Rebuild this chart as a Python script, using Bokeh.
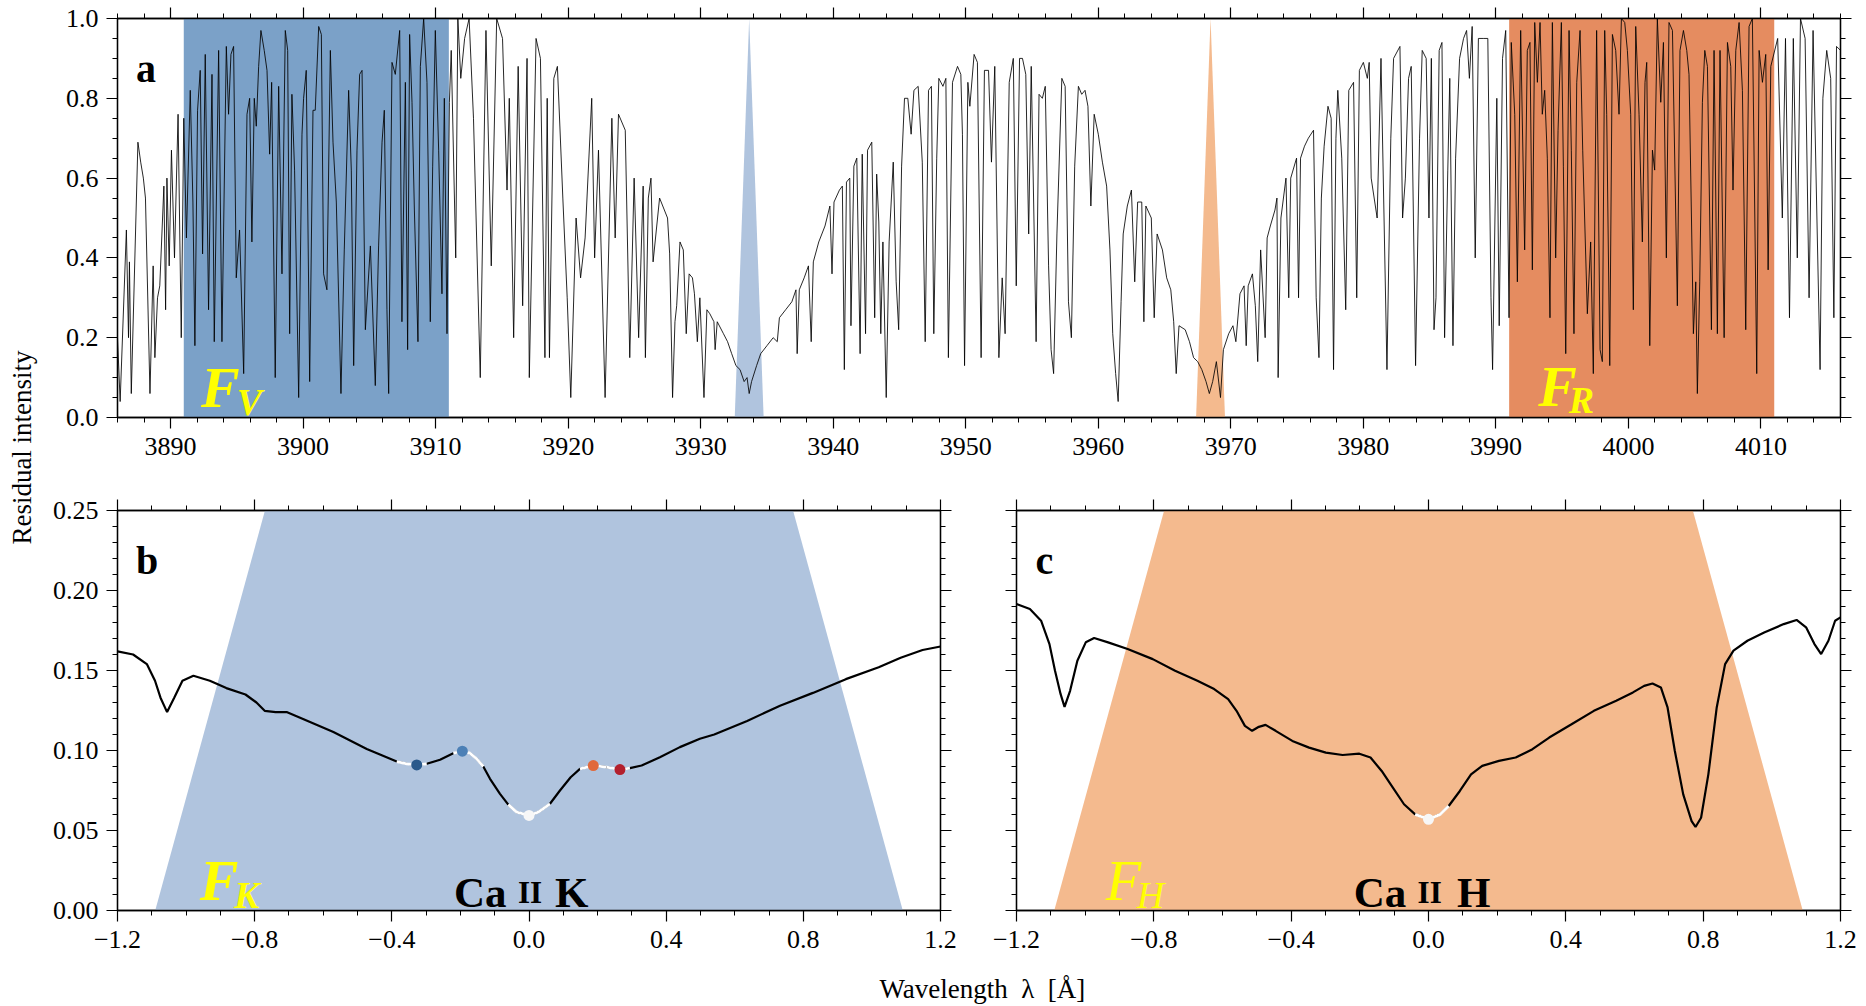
import numpy as np
from bokeh.plotting import figure
from bokeh.layouts import row, column
from bokeh.models import (LinearAxis, FixedTicker, CustomJSTickFormatter, Label)
from bokeh.embed import file_html
from bokeh.resources import INLINE

FONT = "Liberation Serif"

# ---------------- panel a : solar spectrum (wavelength in A, residual intensity) -------------
spec_wl = [
 3886.0, 3886.2, 3886.67, 3886.83, 3886.9, 3887.04, 3887.54, 3887.75, 3887.95, 3888.11,
 3888.45, 3888.69, 3888.82, 3889.02, 3889.19, 3889.5, 3889.63, 3889.73, 3889.9, 3890.07,
 3890.3, 3890.57, 3890.81, 3891.0, 3891.2, 3891.49,
 3891.69, 3891.84, 3892.04, 3892.24, 3892.42, 3892.62, 3892.87, 3893.13, 3893.30, 3893.63,
 3893.88, 3894.21, 3894.38, 3894.56, 3894.76, 3894.96, 3895.21, 3895.52, 3895.77, 3895.97,
 3896.14, 3896.32, 3896.47, 3896.65, 3896.82, 3897.07, 3897.28, 3897.48, 3897.63, 3897.90,
 3898.16, 3898.41, 3898.66, 3898.84, 3898.99, 3899.16, 3899.36, 3899.67, 3899.92, 3900.04,
 3900.24, 3900.50, 3900.75, 3900.92, 3901.18, 3901.38, 3901.55, 3901.80, 3902.06, 3902.26,
 3902.51, 3902.86, 3903.11, 3903.44, 3903.64, 3903.82, 3904.07, 3904.27, 3904.45, 3904.70,
 3905.08, 3905.45, 3905.70, 3905.96, 3906.13, 3906.33, 3906.46, 3906.71, 3906.96, 3907.29,
 3907.46, 3907.72, 3907.89, 3908.04, 3908.22, 3908.40, 3908.67, 3908.85, 3909.10, 3909.35,
 3909.60, 3909.78, 3909.98, 3910.23, 3910.48, 3910.66, 3910.86, 3911.04,
 3911.18, 3911.52, 3911.68, 3911.9, 3912.19, 3912.53, 3912.86, 3913.37, 3913.8, 3914.2,
 3914.61, 3915.05, 3915.39, 3915.56, 3915.89, 3916.23, 3916.57, 3916.9, 3917.07, 3917.58,
 3917.91, 3918.25, 3918.42, 3918.59, 3918.92, 3919.19, 3919.6, 3919.93, 3920.2, 3920.6,
 3920.94, 3921.28, 3921.78, 3922.0, 3922.29, 3922.79, 3923.3, 3923.55, 3923.8, 3924.31,
 3924.65, 3924.98, 3925.32, 3925.66, 3925.83, 3926.05,
 3926.25, 3926.41, 3926.9, 3927.5, 3927.66, 3927.88, 3928.06, 3928.19, 3928.44, 3928.69,
 3928.91, 3929.13, 3929.38, 3929.53, 3929.75, 3929.94, 3930.25, 3930.47, 3930.69, 3931.0,
 3931.09, 3931.25, 3931.72, 3932.03, 3932.34, 3932.66, 3932.97, 3933.28, 3933.5, 3933.66,
 3933.84, 3934.22, 3934.53, 3935.0, 3935.47, 3935.78, 3935.94, 3936.41, 3936.88, 3937.19,
 3937.28, 3937.44, 3937.81, 3938.13, 3938.34, 3938.5, 3938.91, 3939.38, 3939.75, 3939.91,
 3940.06, 3940.47, 3940.69, 3940.84, 3941.0, 3941.25, 3941.34, 3941.56, 3941.78, 3942.03,
 3942.19, 3942.44, 3942.59, 3942.91, 3943.13, 3943.28, 3943.44, 3943.59, 3943.75, 3944.0,
 3944.22, 3944.53, 3944.75, 3944.94, 3945.16, 3945.38, 3945.63, 3945.88, 3946.09, 3946.41,
 3946.72, 3946.94, 3947.19, 3947.41, 3947.59, 3947.81, 3947.97, 3948.28, 3948.5, 3948.69,
 3949.0, 3949.38, 3949.63, 3949.75, 3949.91, 3950.16, 3950.31, 3950.63, 3950.88, 3951.16,
 3951.41, 3951.72, 3951.94, 3952.19, 3952.5, 3952.75, 3952.97, 3953.28, 3953.59, 3953.81,
 3954.06, 3954.28, 3954.53, 3954.75, 3954.94, 3955.31, 3955.53, 3955.78, 3956.0, 3956.25,
 3956.44, 3956.63, 3956.88, 3957.25, 3957.5, 3957.75, 3957.97, 3958.22, 3958.5, 3958.75,
 3959.0, 3959.22, 3959.44, 3959.69, 3960.0, 3960.31, 3960.63, 3960.88, 3961.09, 3961.31,
 3961.5, 3961.72, 3961.88, 3962.19, 3962.5, 3962.75, 3962.97, 3963.28, 3963.44, 3963.59,
 3964.0, 3964.22, 3964.44, 3964.84, 3965.16, 3965.47, 3965.69, 3965.88, 3966.09, 3966.56,
 3966.88, 3967.19, 3967.5, 3967.81, 3968.13, 3968.38, 3968.63, 3968.91, 3969.22, 3969.44,
 3969.84, 3970.16, 3970.38, 3970.69, 3971.0, 3971.16, 3971.31, 3971.63, 3971.85, 3972.03,
 3972.25, 3972.59, 3972.74, 3972.98, 3973.33, 3973.48, 3973.57, 3973.78, 3974.16, 3974.37,
 3974.52, 3974.96, 3975.11, 3975.26, 3975.56, 3975.85, 3976.24, 3976.44, 3976.65, 3976.83,
 3977.04, 3977.33, 3977.57, 3977.75, 3977.93, 3978.07, 3978.37, 3978.67, 3978.9, 3979.26,
 3979.5, 3979.7, 3980.0, 3980.3, 3980.44, 3980.59, 3981.04, 3981.33, 3981.78, 3982.07,
 3982.28, 3982.76, 3982.96, 3983.17, 3983.41, 3983.61, 3983.94, 3984.24, 3984.44, 3984.74,
 3984.95, 3985.13, 3985.33, 3985.48, 3985.72, 3985.93, 3986.13, 3986.37, 3986.52, 3986.76,
 3986.96, 3987.26, 3987.56, 3987.79, 3988.0, 3988.21, 3988.44, 3988.68, 3989.04, 3989.39,
 3989.63, 3989.75, 3990.07, 3990.25, 3990.5, 3990.74, 3990.99,
 3991.16, 3991.42, 3991.62, 3991.87, 3992.17, 3992.37, 3992.57, 3992.75, 3992.93, 3993.13,
 3993.33, 3993.5, 3993.68, 3993.88, 3994.08, 3994.26, 3994.51, 3994.69, 3994.94, 3995.09,
 3995.27, 3995.52, 3995.69, 3995.89, 3996.1, 3996.35, 3996.55, 3996.9, 3997.15, 3997.35,
 3997.6, 3997.86, 3998.03, 3998.21, 3998.36, 3998.59, 3998.79, 3999.04, 3999.29, 3999.47,
 3999.72, 3999.92, 4000.17, 4000.37, 4000.55, 4000.8, 4001.05, 4001.25, 4001.38, 4001.61,
 4001.81, 4001.98, 4002.18, 4002.44, 4002.64, 4002.86, 4003.06, 4003.32, 4003.69, 4003.89,
 4004.15, 4004.4, 4004.57, 4004.75, 4004.9, 4005.08, 4005.2, 4005.38, 4005.58, 4005.76,
 4005.96, 4006.26, 4006.46, 4006.71, 4006.91, 4007.22, 4007.47, 4007.72, 4007.89, 4008.1,
 4008.35, 4008.6, 4008.85, 4009.1, 4009.35, 4009.68, 4009.86, 4010.11, 4010.36, 4010.54,
 4010.74, 4011.26, 4011.61, 4011.85, 4012.15, 4012.44, 4012.74, 4012.98, 4013.33, 4013.63,
 4013.93, 4014.22, 4014.46, 4014.67, 4014.96, 4015.26, 4015.5, 4015.7, 4016.0]

spec_int = [
 0.20, 0.04, 0.47, 0.20, 0.39, 0.06, 0.69, 0.64, 0.60, 0.55,
 0.06, 0.38, 0.15, 0.30, 0.33, 0.58, 0.27, 0.60, 0.38, 0.67,
 0.40, 0.76, 0.20, 0.75, 0.45, 0.82,
 0.54, 0.18, 0.77, 0.87, 0.41, 0.91, 0.27, 0.86, 0.19, 0.92,
 0.19, 0.93, 0.76, 0.91, 0.93, 0.35, 0.47, 0.11, 0.76, 0.80,
 0.44, 0.80, 0.73, 0.88, 0.97, 0.92, 0.87, 0.66, 0.84, 0.10,
 0.83, 0.36, 0.97, 0.92, 0.21, 0.81, 0.62, 0.05, 0.71, 0.80,
 0.87, 0.09, 0.77, 0.77, 0.98, 0.96, 0.36, 0.32, 0.92, 0.69,
 0.54, 0.06, 0.42, 0.82, 0.62, 0.13, 0.67, 0.86, 0.87, 0.22,
 0.43, 0.08, 0.43, 0.69, 0.77, 0.27, 0.06, 0.89, 0.86, 0.97,
 0.24, 0.84, 0.17, 0.96, 0.79, 0.52, 0.19, 0.88, 1.00, 0.84,
 0.24, 0.63, 0.97, 0.67, 0.31, 0.80, 0.21, 0.79,
 0.92, 0.40, 1.00, 0.85, 0.95, 1.00, 0.75, 0.10, 0.97, 0.38,
 1.00, 0.95, 0.57, 0.80, 0.20, 0.88, 0.28, 0.90, 0.10, 0.95,
 0.90, 0.15, 0.80, 0.15, 0.85, 0.88, 0.55, 0.30, 0.05, 0.50,
 0.35, 0.45, 0.80, 0.40, 0.67, 0.05, 0.75, 0.45, 0.76, 0.72,
 0.15, 0.60, 0.20, 0.58, 0.15, 0.55,
 0.60, 0.39, 0.55, 0.50, 0.41, 0.05, 0.24, 0.28, 0.44, 0.42,
 0.21, 0.36, 0.35, 0.31, 0.19, 0.30, 0.05, 0.27, 0.26, 0.24,
 0.17, 0.24, 0.21, 0.19, 0.16, 0.13, 0.12, 0.09, 0.10, 0.06,
 0.09, 0.13, 0.16, 0.18, 0.20, 0.19, 0.25, 0.27, 0.29, 0.32,
 0.16, 0.32, 0.35, 0.38, 0.19, 0.39, 0.44, 0.48, 0.53, 0.36,
 0.54, 0.57, 0.58, 0.12, 0.59, 0.60, 0.23, 0.63, 0.65, 0.16,
 0.66, 0.21, 0.67, 0.69, 0.25, 0.61, 0.49, 0.21, 0.44, 0.05,
 0.44, 0.64, 0.34, 0.22, 0.63, 0.80, 0.80, 0.71, 0.82, 0.83,
 0.64, 0.19, 0.82, 0.83, 0.21, 0.65, 0.85, 0.83, 0.85, 0.15,
 0.84, 0.88, 0.86, 0.71, 0.13, 0.84, 0.78, 0.91, 0.89, 0.15,
 0.87, 0.87, 0.64, 0.88, 0.15, 0.35, 0.21, 0.84, 0.90, 0.33,
 0.90, 0.90, 0.86, 0.46, 0.88, 0.19, 0.81, 0.80, 0.83, 0.38,
 0.17, 0.11, 0.46, 0.85, 0.83, 0.29, 0.20, 0.63, 0.83, 0.81,
 0.82, 0.78, 0.53, 0.76, 0.71, 0.64, 0.58, 0.42, 0.21, 0.11,
 0.04, 0.29, 0.46, 0.53, 0.57, 0.34, 0.54, 0.54, 0.24, 0.53,
 0.50, 0.25, 0.46, 0.42, 0.35, 0.32, 0.24, 0.11, 0.23, 0.22,
 0.19, 0.15, 0.14, 0.12, 0.09, 0.06, 0.09, 0.14, 0.05, 0.17,
 0.21, 0.23, 0.19, 0.31, 0.33, 0.18, 0.33, 0.36, 0.28, 0.14,
 0.42, 0.20, 0.45, 0.48, 0.52, 0.55, 0.10, 0.50, 0.60, 0.30,
 0.60, 0.65, 0.30, 0.65, 0.68, 0.70, 0.72, 0.30, 0.15, 0.55,
 0.68, 0.78, 0.75, 0.12, 0.70, 0.82, 0.65, 0.27, 0.82, 0.84,
 0.30, 0.87, 0.89, 0.85, 0.89, 0.60, 0.50, 0.90, 0.12, 0.70,
 0.90, 0.93, 0.50, 0.60, 0.85, 0.88, 0.13, 0.70, 0.92, 0.90,
 0.50, 0.90, 0.22, 0.30, 0.92, 0.94, 0.20, 0.62, 0.85, 0.18,
 0.65, 0.90, 0.95, 0.97, 0.85, 0.98, 0.40, 0.95, 0.95, 0.95,
 0.30, 0.12, 0.80, 0.23, 0.90, 0.97, 0.25,
 0.94, 0.76, 0.34, 0.97, 0.42, 0.92, 0.94, 0.37, 0.99, 0.84,
 0.99, 0.76, 0.82, 0.65, 0.25, 0.99, 0.40, 0.72, 0.99, 0.63,
 0.16, 0.97, 0.67, 0.21, 0.84, 0.97, 0.67, 0.26, 0.44, 0.11,
 0.97, 0.17, 0.14, 0.97, 0.76, 0.13, 0.96, 0.92, 0.76, 1.00,
 0.99, 0.92, 0.76, 0.27, 0.98, 0.76, 0.44, 0.84, 0.89, 0.18,
 0.67, 0.62, 1.00, 0.79, 0.94, 0.40, 0.99, 0.97, 0.28, 0.92,
 0.97, 0.92, 0.86, 0.51, 0.21, 0.34, 0.06, 0.34, 0.79, 0.92,
 0.88, 0.22, 0.92, 0.21, 0.92, 0.20, 0.94, 0.88, 0.57, 0.92,
 0.99, 0.82, 0.22, 0.98, 1.00, 0.11, 0.92, 0.84, 0.91, 0.37,
 0.88, 0.95, 0.50, 0.95, 0.25, 0.95, 0.40, 1.00, 0.95, 0.30,
 0.97, 0.50, 0.12, 0.80, 0.92, 0.85, 0.25, 0.93, 0.92]

band_centers = [3901.0, 4001.0]          # F_V and F_R windows
band_width = 20.0
band_colors = ["#7BA1C8", "#E58C60"]
line_centers = [3933.66, 3968.47]        # Ca II K and H
line_halfbase = 1.09
line_colors = ["#B0C4DE", "#F4BA8E"]

# ---------------- panel b : Ca II K core (delta lambda, intensity) ----------------
k_dl = [-1.2, -1.1545, -1.1145, -1.0906, -1.0746, -1.0554, -1.0346, -1.0106, -0.9786, -0.9307,
        -0.8827, -0.8268, -0.7948, -0.7708, -0.7388, -0.7069, -0.6675, -0.5704, -0.4731, -0.3857,
        -0.3565, -0.3274, -0.2982, -0.2595, -0.2207, -0.1944, -0.172, -0.1525, -0.1333, -0.1137,
        -0.0846, -0.0604, -0.0359, 0.0, 0.0271, 0.0612, 0.0903, 0.1215, 0.1486, 0.1874,
        0.2264, 0.2652, 0.2943, 0.3284, 0.3817, 0.44, 0.4983, 0.5402, 0.6361, 0.732,
        0.828, 0.9239, 1.0198, 1.0838, 1.1477, 1.2]
k_int = [0.162, 0.160, 0.154, 0.1436, 0.133, 0.124, 0.133, 0.1436, 0.1467, 0.1436,
         0.139, 0.135, 0.130, 0.1248, 0.124, 0.124, 0.1205, 0.1115, 0.101, 0.0931,
         0.0917, 0.0910, 0.0917, 0.0942, 0.0983, 0.0996, 0.0983, 0.0948, 0.0900, 0.0823,
         0.0729, 0.0662, 0.0615, 0.0594, 0.0615, 0.0667, 0.0750, 0.0833, 0.0885, 0.0906,
         0.0896, 0.0881, 0.0890, 0.0906, 0.0958, 0.1021, 0.1073, 0.110, 0.1185, 0.128,
         0.136, 0.1446, 0.152, 0.158, 0.1628, 0.165]
k_marks = [-0.3274, -0.1944, 0.0, 0.1874, 0.2652]
k_mark_colors = ["#2A5A8C", "#4C80B6", "#F7F7F7", "#E0693B", "#B3202D"]

# ---------------- panel c : Ca II H core ----------------
h_dl = [-1.2, -1.161, -1.1284, -1.104, -1.0878, -1.0715, -1.0601, -1.0439, -1.0227, -0.9983,
        -0.9739, -0.9333, -0.8764, -0.8032, -0.7381, -0.6731, -0.6243, -0.5836, -0.5592, -0.5348,
        -0.5137, -0.4941, -0.4746, -0.4453, -0.3966, -0.3478, -0.299, -0.2502, -0.2014, -0.1689,
        -0.1364, -0.1038, -0.0713, -0.0388, 0.0, 0.0344, 0.0588, 0.0913, 0.1239, 0.1564,
        0.2052, 0.254, 0.3028, 0.3516, 0.4166, 0.4817, 0.5467, 0.5955, 0.6281, 0.6524,
        0.6768, 0.6963, 0.7175, 0.7419, 0.7663, 0.7777, 0.7939, 0.8151, 0.8395, 0.8639,
        0.8883, 0.9289, 0.9777, 1.0347, 1.0721, 1.0997, 1.1241, 1.1436, 1.1648, 1.1843, 1.2]
h_int = [0.1916, 0.1884, 0.1811, 0.1665, 0.1498, 0.1352, 0.1273, 0.1373, 0.1561, 0.1676,
         0.1703, 0.1676, 0.1634, 0.1571, 0.1498, 0.1436, 0.1384, 0.1321, 0.1248, 0.1154,
         0.1123, 0.1148, 0.116, 0.1123, 0.106, 0.1018, 0.0987, 0.0972, 0.098, 0.0956,
         0.0872, 0.0768, 0.0664, 0.0601, 0.057, 0.0601, 0.0653, 0.0747, 0.0851, 0.0904,
         0.0935, 0.0956, 0.1008, 0.1081, 0.1164, 0.1248, 0.1311, 0.1363, 0.1404, 0.1419,
         0.1394, 0.1269, 0.0997, 0.0726, 0.0559, 0.0522, 0.058, 0.0851, 0.1269, 0.154,
         0.1624, 0.1686, 0.1738, 0.179, 0.1816, 0.177, 0.1665, 0.1603, 0.1686, 0.1811, 0.1832]
h_marks = [0.0]
h_mark_colors = ["#F7F7F7"]

# filter passband as drawn in the zoomed panels (half base at 0, half width at top 0.25)
filt_half_base = 1.09
filt_half_top = 0.77
filt_top = 0.25


def style_axis(ax, show_labels, fmt_code, ticks, minor):
    ax.ticker = FixedTicker(ticks=ticks, minor_ticks=minor)
    ax.axis_line_color = "black"
    ax.axis_line_width = 1.3
    ax.major_tick_line_color = "black"
    ax.minor_tick_line_color = "black"
    ax.major_tick_line_width = 1.2
    ax.minor_tick_line_width = 1.0
    ax.major_tick_out = 11
    ax.major_tick_in = 0
    ax.minor_tick_out = 5
    ax.minor_tick_in = 0
    if show_labels:
        ax.formatter = CustomJSTickFormatter(code=fmt_code)
        ax.major_label_text_font = FONT
        ax.major_label_text_font_size = "26px"
        ax.major_label_text_color = "black"
    else:
        ax.formatter = CustomJSTickFormatter(code="return '';")
        ax.major_label_text_font_size = "0px"
        ax.major_label_standoff = 0


def make_panel(width, height, xr, yr, borders, xticks, xminor, yticks, yminor, xfmt, yfmt, ylabels):
    p = figure(width=width, height=height, x_range=xr, y_range=yr,
               output_backend="svg", toolbar_location=None,
               min_border_left=borders[0], min_border_right=borders[1],
               min_border_top=borders[2], min_border_bottom=borders[3],
               background_fill_color="white", border_fill_color="white")
    p.xgrid.visible = False
    p.ygrid.visible = False
    p.outline_line_color = "black"
    p.outline_line_width = 1.3
    style_axis(p.xaxis[0], True, xfmt, xticks, xminor)
    p.xaxis[0].major_label_standoff = 9
    style_axis(p.yaxis[0], ylabels, yfmt, yticks, yminor)
    if ylabels:
        p.yaxis[0].major_label_standoff = 8
    top = LinearAxis()
    style_axis(top, False, None, xticks, xminor)
    p.add_layout(top, "above")
    right = LinearAxis()
    style_axis(right, False, None, yticks, yminor)
    p.add_layout(right, "right")
    return p


def lab(p, x, y, text, size, style="normal", color="black"):
    p.add_layout(Label(x=x, y=y, text=text, text_font=FONT, text_font_size=size,
                       text_font_style=style, text_color=color,
                       text_align="left", text_baseline="alphabetic"))


# ---------------- top panel ----------------
xt_a = list(range(3890, 4011, 10))
xm_a = list(range(3886, 4017, 2))
yt_a = [0.0, 0.2, 0.4, 0.6, 0.8, 1.0]
ym_a = [round(v, 2) for v in np.arange(0, 1.0001, 0.05)]

pa = make_panel(1821, 470, (3886, 4016), (0, 1), (72, 26, 18, 53),
                xt_a, xm_a, yt_a, ym_a,
                "return tick.toFixed(0);", "return tick.toFixed(1);", True)

pa.quad(left=[c - band_width / 2 for c in band_centers],
        right=[c + band_width / 2 for c in band_centers],
        bottom=0, top=1, fill_color=band_colors, line_color=None)
pa.patches(xs=[[c - line_halfbase, c, c + line_halfbase] for c in line_centers],
           ys=[[0, 1, 0] for _ in line_centers],
           fill_color=line_colors, line_color=None)
pa.line(spec_wl, spec_int, line_color="black", line_width=0.85)

lab(pa, 3887.4, 0.875, "a", "40px", "bold")
lab(pa, 3892.3, 0.076, "F", "58px", "bold italic", "#FFFF00")
lab(pa, 3895.0, 0.038, "V", "38px", "bold italic", "#FFFF00")
lab(pa, 3993.2, 0.078, "F", "58px", "bold italic", "#FFFF00")
lab(pa, 3995.5, 0.043, "R", "38px", "bold italic", "#FFFF00")

# ---------------- bottom panels ----------------
xt_b = [-1.2, -0.8, -0.4, 0.0, 0.4, 0.8, 1.2]
xm_b = [round(v, 2) for v in np.arange(-1.2, 1.2001, 0.1)]
yt_b = [0.0, 0.05, 0.10, 0.15, 0.20, 0.25]
ym_b = [round(v, 3) for v in np.arange(0, 0.2501, 0.01)]
xfmt_b = "return (tick < -1e-9 ? '\\u2212' : '') + Math.abs(tick).toFixed(1);"
yfmt_b = "return tick.toFixed(2);"

filt_x = [-filt_half_base, -filt_half_top, filt_half_top, filt_half_base]
filt_y = [0, filt_top, filt_top, 0]


def core_panel(width, borders, ylabels, dl, inten, marks, mark_colors, fill):
    p = make_panel(width, 495, (-1.2, 1.2), (0, 0.25), borders,
                   xt_b, xm_b, yt_b, ym_b, xfmt_b, yfmt_b, ylabels)
    p.patch(filt_x, filt_y, fill_color=fill, line_color=None)
    p.line(dl, inten, line_color="black", line_width=2.2)
    dla = np.array(dl)
    ina = np.array(inten)
    for m in marks:
        sel = np.abs(dla - m) <= 0.062
        p.line(dla[sel], ina[sel], line_color="white", line_width=2.8)
    my = [inten[dl.index(m)] for m in marks]
    p.scatter(marks, my, size=11, fill_color=mark_colors, line_color=None)
    return p


pb = core_panel(933, (72, 38, 40, 55), True, k_dl, k_int, k_marks, k_mark_colors, line_colors[0])
pc = core_panel(888, (38, 26, 40, 55), False, h_dl, h_int, h_marks, h_mark_colors, line_colors[1])

lab(pb, -1.146, 0.2188, "b", "40px", "bold")
lab(pb, -0.96, 0.0188, "F", "58px", "bold italic", "#FFFF00")
lab(pb, -0.86, 0.0094, "K", "38px", "bold italic", "#FFFF00")
lab(pb, -0.219, 0.0114, "Ca", "43px", "bold")
lab(pb, -0.032, 0.0114, "II", "31px", "bold")
lab(pb, 0.0757, 0.0114, "K", "43px", "bold")

lab(pc, -1.1447, 0.2188, "c", "40px", "bold")
lab(pc, -0.94, 0.0188, "F", "58px", "italic", "#FFFF00")
lab(pc, -0.85, 0.0094, "H", "38px", "italic", "#FFFF00")
lab(pc, -0.218, 0.0114, "Ca", "43px", "bold")
lab(pc, -0.0317, 0.0114, "II", "31px", "bold")
lab(pc, 0.0833, 0.0114, "H", "43px", "bold")

# ---------------- shared axis titles ----------------
side = figure(width=45, height=1006, x_range=(0, 45), y_range=(0, 1006),
              output_backend="svg", toolbar_location=None, min_border=0,
              x_axis_location=None, y_axis_location=None)
side.grid.visible = False
side.outline_line_color = None
side.add_layout(Label(x=21, y=1006 - 447, text="Residual intensity", angle=np.pi / 2,
                      text_font=FONT, text_font_size="27px", text_color="black",
                      text_align="center", text_baseline="middle"))

foot = figure(width=1821, height=41, x_range=(0, 1821), y_range=(0, 41),
              output_backend="svg", toolbar_location=None, min_border=0,
              x_axis_location=None, y_axis_location=None)
foot.grid.visible = False
foot.outline_line_color = None
foot.add_layout(Label(x=914, y=18, text="Wavelength\u2002\u03bb\u2002[\u00c5]",
                      text_font=FONT, text_font_size="27px", text_color="black",
                      text_align="center", text_baseline="middle"))

layout = row(side, column(pa, row(pb, pc), foot))

open("out.html", "w").write(file_html(layout, INLINE))
